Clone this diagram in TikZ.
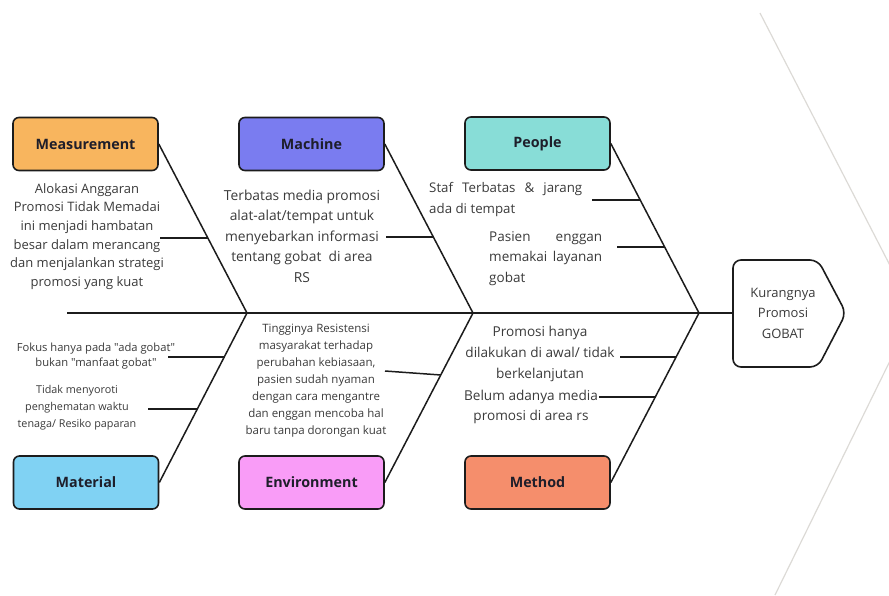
\documentclass[tikz,border=0pt]{standalone}
\usepackage{fontspec}
\setmainfont{Open Sans}
\newfontfamily\plainfont{Open Sans}
\definecolor{bord}{HTML}{1C1C1C}
\definecolor{txt}{HTML}{3A3A3A}
\definecolor{labtxt}{HTML}{1E1E2A}
\definecolor{cMeas}{HTML}{F8B55E}
\definecolor{cMach}{HTML}{7A7CF0}
\definecolor{cPeop}{HTML}{88DDD7}
\definecolor{cMat}{HTML}{80D2F3}
\definecolor{cEnv}{HTML}{F99CF7}
\definecolor{cMeth}{HTML}{F58E6C}
\definecolor{chev}{HTML}{DCDAD6}
\tikzset{
  catbox/.style={draw=bord, line width=1.6pt, rounded corners=6pt,
    minimum width=145pt, minimum height=53pt, inner sep=0pt,
    font=\bfseries\fontsize{14.3}{16}\selectfont, text=labtxt},
  bone/.style={draw=bord, line width=1.5pt},
  rib/.style={draw=bord, line width=1.5pt},
  desc/.style={align=center, text=txt, inner sep=0pt},
}
\begin{document}
\begin{tikzpicture}[x=1pt,y=-1pt]
\useasboundingbox (0,0) rectangle (889,595);
% background chevron
\begin{scope}
\clip (0,0) rectangle (889,595);
\draw[chev, line width=1.2pt] (760,13) -- (914,312) -- (775,595);
\end{scope}

% category boxes
\node[catbox, fill=cMeas] (meas) at (85.5,144) {Measurement};
\node[catbox, fill=cMach] (mach) at (311.5,144) {Machine};
\node[catbox, fill=cPeop] (peop) at (537.5,143.5) {People};
\node[catbox, fill=cMat]  (mat)  at (86,482.5) {Material};
\node[catbox, fill=cEnv]  (env)  at (311.5,482.5) {Environment};
\node[catbox, fill=cMeth] (meth) at (537.5,482.5) {Method};

% head
\coordinate (headw) at (733,313);
\draw[bord, line width=1.6pt, rounded corners=8pt]
  (733,260) -- (818,260) -- (846,313) -- (818,367) -- (733,367) -- cycle;
\node[desc, font=\fontsize{13}{20.5}\selectfont] (head) at (783,313)
  {Kurangnya\\Promosi\\GOBAT};

% spine and junctions
\coordinate (tail) at (67,313);
\coordinate (j1) at (247,313);
\coordinate (j2) at (473,313);
\coordinate (j3) at (699,313);
\draw[bone] (tail) -- (headw);
\draw[bone] (meas.east) -- (j1);
\draw[bone] (mat.east) -- (j1);
\draw[bone] (mach.east) -- (j2);
\draw[bone] (env.east) -- (j2);
\draw[bone] (peop.east) -- (j3);
\draw[bone] (meth.east) -- (j3);

% description texts
\node[desc, font=\fontsize{13}{18.6}\selectfont] (tmeas) at (87,236.5)
  {Alokasi Anggaran\\Promosi Tidak Memadai\\ini menjadi hambatan\\besar dalam merancang\\dan menjalankan strategi\\promosi yang kuat};
\node[desc, font=\fontsize{13.8}{20.5}\selectfont] (tmach) at (302,236)
  {Terbatas media promosi\\alat-alat/tempat untuk\\menyebarkan informasi\\tentang gobat\ \ di area\\RS};
\node[desc, align=left, anchor=west, font=\fontsize{13.3}{21}\selectfont] (tpeo1) at (429,199.5)
  {\makebox[153pt][s]{Staf Terbatas \& jarang}\\ada di tempat};
\node[desc, align=left, anchor=west, font=\fontsize{13.5}{20.5}\selectfont] (tpeo2) at (489,258.5)
  {\makebox[113pt][s]{Pasien enggan}\\\makebox[113pt][s]{memakai layanan}\\gobat};
\node[desc, font=\plainfont\fontsize{11.2}{15}\selectfont] (tmat1) at (96,356.5)
  {Fokus hanya pada "ada gobat"\\bukan "manfaat gobat"};
\node[desc, font=\fontsize{10.8}{17}\selectfont] (tmat2) at (77,408)
  {Tidak menyoroti\\penghematan waktu\\tenaga/ Resiko paparan};
\node[desc, font=\fontsize{11.5}{17}\selectfont] (tenv) at (316,381)
  {Tingginya Resistensi\\masyarakat terhadap\\perubahan kebiasaan,\\pasien sudah nyaman\\dengan cara mengantre\\dan enggan mencoba hal\\baru tanpa dorongan kuat};
\node[desc, font=\fontsize{13.6}{21}\selectfont] (tmet1) at (540,354)
  {Promosi hanya\\dilakukan di awal/ tidak\\berkelanjutan};
\node[desc, font=\fontsize{13.6}{20}\selectfont] (tmet2) at (531,407)
  {Belum adanya media\\promosi di area rs};

% ribs
\coordinate (rmeas) at (208,238);
\draw[rib] (160,238) -- (rmeas);
\coordinate (rmach) at (433,237);
\draw[rib] (386,237) -- (rmach);
\coordinate (rpeo1) at (640,200);
\draw[rib] (592,200) -- (rpeo1);
\coordinate (rpeo2) at (664,247);
\draw[rib] (617,247) -- (rpeo2);
\coordinate (rmat1) at (225,357);
\draw[rib] (168,357) -- (rmat1);
\coordinate (rmat2) at (198,409);
\draw[rib] (148,409) -- (rmat2);
\coordinate (renv) at (441,375);
\draw[rib] (385,371) -- (renv);
\coordinate (rmet1) at (676,357);
\draw[rib] (620,357) -- (rmet1);
\coordinate (rmet2) at (656,397);
\draw[rib] (599,397) -- (rmet2);
\end{tikzpicture}
\end{document}
